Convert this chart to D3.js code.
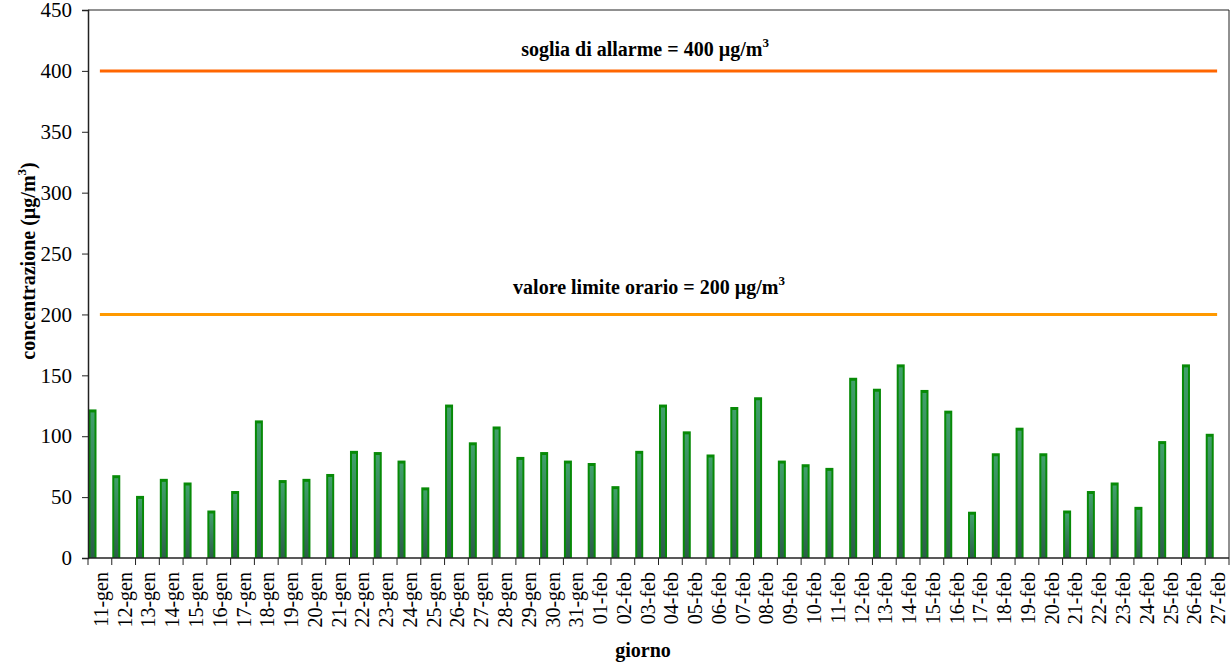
<!DOCTYPE html>
<html>
<head>
<meta charset="utf-8">
<script src="https://cdn.jsdelivr.net/npm/d3@7"></script>
<style>
  body { margin: 0; background: #fff; }
</style>
</head>
<body>
<svg></svg>
<script>
const days = ["11-gen","12-gen","13-gen","14-gen","15-gen","16-gen","17-gen","18-gen","19-gen","20-gen",
  "21-gen","22-gen","23-gen","24-gen","25-gen","26-gen","27-gen","28-gen","29-gen","30-gen","31-gen",
  "01-feb","02-feb","03-feb","04-feb","05-feb","06-feb","07-feb","08-feb","09-feb","10-feb","11-feb",
  "12-feb","13-feb","14-feb","15-feb","16-feb","17-feb","18-feb","19-feb","20-feb","21-feb","22-feb",
  "23-feb","24-feb","25-feb","26-feb","27-feb"];
const values = [122, 68, 51, 65, 62, 39, 55, 113, 64, 65,
  69, 88, 87, 80, 58, 126, 95, 108, 83, 87, 80,
  78, 59, 88, 126, 104, 85, 124, 132, 80, 77, 74,
  148, 139, 159, 138, 121, 38, 86, 107, 86, 39, 55,
  62, 42, 96, 159, 102];
const allarme = 400;
const limite = 200;
const yTicks = [0, 50, 100, 150, 200, 250, 300, 350, 400, 450];

const FONT = "'Liberation Serif'";

const svg = d3.select("svg")
    .attr("width", 1232)
    .attr("height", 664);

const margin = { top: 10, right: 3, bottom: 106, left: 88 };
const width = 1232 - margin.left - margin.right;
const height = 664 - margin.top - margin.bottom;

const g = svg.append("g")
    .attr("transform", `translate(${margin.left},${margin.top})`);

const x = d3.scaleBand()
    .domain(days)
    .range([0, width]);

const y = d3.scaleLinear()
    .domain([0, 450])
    .range([height, 0]);

// gradient for the inner stripe of the bars
const defs = svg.append("defs");
const grad = defs.append("linearGradient")
    .attr("id", "stripe")
    .attr("x1", 0).attr("y1", 0).attr("x2", 0).attr("y2", 1);
grad.append("stop").attr("offset", "0%").attr("stop-color", "#40a06a");
grad.append("stop").attr("offset", "100%").attr("stop-color", "#2c5c4a");

// plot frame (top and right)
g.append("path")
    .attr("d", `M0,0H${width}V${height}`)
    .attr("fill", "none")
    .attr("stroke", "#222")
    .attr("stroke-width", 1);

// bars
const barW = 8;
const bars = g.selectAll(".bar")
    .data(days.map((d, i) => ({ day: d, value: values[i] })))
    .enter()
    .append("g")
    .attr("class", "bar");

bars.append("rect")
    .attr("x", d => x(d.day) + 0.5)
    .attr("y", d => y(d.value))
    .attr("width", barW)
    .attr("height", d => height - y(d.value))
    .attr("fill", "#078a07");

bars.append("rect")
    .attr("x", d => x(d.day) + 2.5)
    .attr("y", d => y(d.value) + 3)
    .attr("width", barW - 4)
    .attr("height", d => Math.max(0, height - y(d.value) - 3))
    .attr("fill", "url(#stripe)");

// threshold lines, drawn from first to last category centre
const lineGen = d3.line()
    .x(d => x(d.day) + x.bandwidth() / 2)
    .y(d => y(d.value));

const ends = [days[0], days[days.length - 1]];

g.append("path")
    .datum(ends.map(d => ({ day: d, value: allarme })))
    .attr("d", lineGen)
    .attr("stroke", "#ff6600")
    .attr("stroke-width", 3)
    .attr("fill", "none");

g.append("path")
    .datum(ends.map(d => ({ day: d, value: limite })))
    .attr("d", lineGen)
    .attr("stroke", "#ff9900")
    .attr("stroke-width", 3)
    .attr("fill", "none");

// line labels
function lineLabel(txt, value, cx, dy) {
    const t = g.append("text")
        .attr("x", cx)
        .attr("y", y(value) - dy)
        .attr("text-anchor", "middle")
        .style("font-family", FONT)
        .style("font-size", "20px")
        .style("font-weight", "bold")
        .attr("fill", "#000");
    t.append("tspan").text(txt);
    t.append("tspan").style("font-size", "13px").attr("dy", -9).text("3");
}
lineLabel(`soglia di allarme = ${allarme} µg/m`, allarme, 557, 15);
lineLabel(`valore limite orario = ${limite} µg/m`, limite, 561, 20);

// y axis
const yAxis = g.append("g")
    .call(d3.axisLeft(y).tickValues(yTicks).tickSize(6).tickPadding(10));
yAxis.select(".domain").attr("stroke", "#222").attr("stroke-width", 1.5);
yAxis.selectAll(".tick line").attr("stroke", "#222");
yAxis.selectAll("text")
    .style("font-size", "21px")
    .style("font-family", FONT)
    .attr("fill", "#000");

// x axis
const xAxis = g.append("g")
    .attr("transform", `translate(0,${height})`);
xAxis.append("line")
    .attr("x1", 0).attr("x2", width)
    .attr("stroke", "#222").attr("stroke-width", 1.5);
xAxis.selectAll(".xtick")
    .data(days.concat(["end"]))
    .enter()
    .append("line")
    .attr("x1", d => d === "end" ? width : x(d))
    .attr("x2", d => d === "end" ? width : x(d))
    .attr("y1", 0).attr("y2", 7)
    .attr("stroke", "#222");
xAxis.selectAll(".xlabel")
    .data(days)
    .enter()
    .append("text")
    .attr("transform", d => `translate(${x(d) + x.bandwidth() / 2 + 1},14) rotate(-90)`)
    .attr("text-anchor", "end")
    .attr("dy", "0.35em")
    .style("font-family", FONT)
    .style("font-size", "20px")
    .attr("fill", "#000")
    .text(d => d);

// axis titles
svg.append("text")
    .attr("x", 643)
    .attr("y", 657)
    .attr("text-anchor", "middle")
    .style("font-family", FONT)
    .style("font-size", "20px")
    .style("font-weight", "bold")
    .text("giorno");

const yTitle = svg.append("text")
    .attr("transform", "translate(35,261) rotate(-90)")
    .attr("text-anchor", "middle")
    .style("font-family", FONT)
    .style("font-size", "20px")
    .style("font-weight", "bold");
yTitle.append("tspan").text("concentrazione (µg/m");
yTitle.append("tspan").style("font-size", "13px").attr("dy", -9).text("3");
yTitle.append("tspan").attr("dy", 9).text(")");
</script>
</body>
</html>
